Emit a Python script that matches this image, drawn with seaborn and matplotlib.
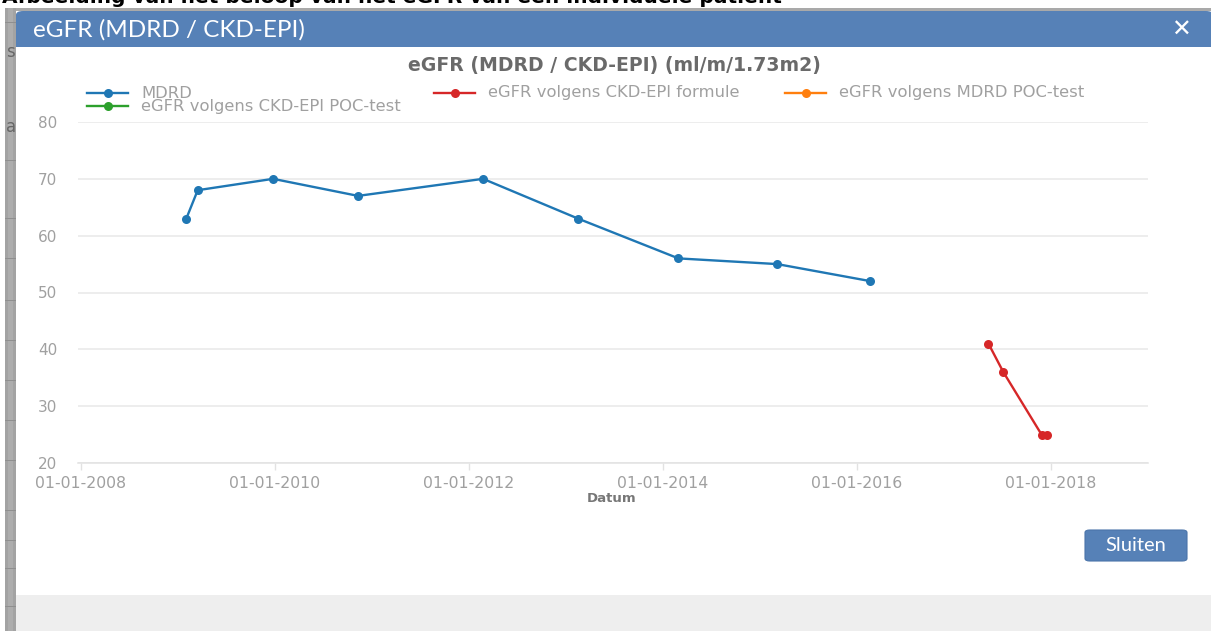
import matplotlib
matplotlib.use("Agg")
import matplotlib.pyplot as plt
import matplotlib.dates as mdates
from matplotlib.patches import Rectangle, FancyBboxPatch
from matplotlib.lines import Line2D
import seaborn as sns
import pandas as pd

# ---------------- data ----------------
mdrd_dates = ["2009-02-01", "2009-03-16", "2009-12-25", "2010-11-10", "2012-02-24",
              "2013-02-16", "2014-03-01", "2015-03-08", "2016-02-22"]
mdrd_values = [63, 68, 70, 67, 70, 63, 56, 55, 52]
ckd_dates = ["2017-05-12", "2017-07-07", "2017-11-28", "2017-12-19"]
ckd_values = [41, 36, 25, 25]

series_names = ["MDRD", "eGFR volgens CKD-EPI formule", "eGFR volgens MDRD POC-test",
                "eGFR volgens CKD-EPI POC-test"]
series_colors = ["#1f77b4", "#d62728", "#ff7f0e", "#2ca02c"]
y_ticks = [20, 30, 40, 50, 60, 70, 80]
chart_title = "eGFR (MDRD / CKD-EPI) (ml/m/1.73m2)"
x_label = "Datum"
dialog_title = "eGFR (MDRD / CKD-EPI)"
button_label = "Sluiten"
caption = "Afbeelding van het beloop van het eGFR van een individuele patiënt"

df = pd.concat([
    pd.DataFrame({"date": pd.to_datetime(mdrd_dates), "value": mdrd_values, "series": series_names[0]}),
    pd.DataFrame({"date": pd.to_datetime(ckd_dates), "value": ckd_values, "series": series_names[1]}),
], ignore_index=True)

# ---------------- figure ----------------
W, H = 1211, 631
fig = plt.figure(figsize=(W / 100, H / 100), dpi=100)
fig.patch.set_facecolor("white")


def fx(x):
    return x / W


def fy(y):
    return 1 - y / H


def rect(x0, y0, x1, y1, color, z=0):
    fig.patches.append(Rectangle((fx(x0), fy(y1)), fx(x1 - x0), (y1 - y0) / H,
                                 transform=fig.transFigure, facecolor=color,
                                 edgecolor="none", zorder=z))


# page behind the dialog
rect(0, 0, W, H, "white", 0)
rect(5, 8, W, 11, "#a9a9a9", 0)
rect(5, 8, 16, H, "#a3a3a3", 0)
rect(8, 8, 13, H, "#adadad", 0)
for yy in [22, 160, 218, 258, 300, 340, 380, 420, 460, 510, 540, 568, 606]:
    rect(5, yy, 16, yy + 1, "#8f8f8f", 0)
fig.text(fx(2), fy(3), caption, fontsize=14.5, fontweight="bold", color="black",
         family="DejaVu Sans", ha="left", va="baseline")
fig.text(fx(6), fy(52), "s", fontsize=12, color="#666666", ha="left", va="center")
fig.text(fx(6), fy(127), "a", fontsize=12, color="#666666", ha="left", va="center")

# dialog
fig.patches.append(FancyBboxPatch((fx(16), fy(60)), fx(W - 14), (60 - 11) / H,
                                  boxstyle="round,pad=0,rounding_size=0.006",
                                  transform=fig.transFigure, facecolor="#5681b7",
                                  edgecolor="none", zorder=1))
rect(16, 40, W, 47, "#5681b7", 1)
rect(16, 47, W, 595, "white", 1)
rect(16, 595, W, H, "#eeeeee", 1)
fig.text(fx(33), fy(30), dialog_title, fontsize=17.5, color="white", family="Lato",
         ha="left", va="center", zorder=3)
fig.text(fx(1181), fy(30), "✕", fontsize=17, fontweight="bold", color="white",
         family="DejaVu Sans", ha="center", va="center", zorder=3)

# button
fig.patches.append(FancyBboxPatch((fx(1085), fy(561)), fx(102), 31 / H,
                                  boxstyle="round,pad=0,rounding_size=0.004",
                                  transform=fig.transFigure, facecolor="#5681b7",
                                  edgecolor="#4a74aa", linewidth=0.8, zorder=2))
fig.text(fx(1136), fy(545.5), button_label, fontsize=14.5, color="white", family="Lato",
         ha="center", va="center", zorder=3)

# ---------------- chart ----------------
ax = fig.add_axes([fx(78), fy(463), fx(1148 - 78), (463 - 122) / H], zorder=2)
ax.set_facecolor("none")
palette = dict(zip(series_names, series_colors))
sns.lineplot(data=df, x="date", y="value", hue="series", palette=palette,
             estimator=None, sort=True, marker="o", markersize=6.5,
             markeredgewidth=0, linewidth=1.7, legend=False, ax=ax, zorder=3)

ax.set_xlim(pd.Timestamp("2007-12-21"), pd.Timestamp("2019-01-03"))
ax.set_ylim(20, 80)
ax.set_yticks(y_ticks)
ax.xaxis.set_major_locator(mdates.YearLocator(2))
ax.xaxis.set_major_formatter(mdates.DateFormatter("%d-%m-%Y"))
ax.grid(axis="y", color="#e8e8e8", linewidth=1.1)
ax.grid(axis="x", visible=False)
for s in ["top", "right", "left"]:
    ax.spines[s].set_visible(False)
ax.spines["bottom"].set_color("#e2e2e2")
ax.spines["bottom"].set_linewidth(1.1)
ax.tick_params(axis="y", length=0, pad=15, labelsize=11, labelcolor="#a0a0a0")
ax.tick_params(axis="x", length=5, width=1, color="#e2e2e2", pad=4,
               labelsize=11.3, labelcolor="#a0a0a0")
for lab in ax.get_yticklabels() + ax.get_xticklabels():
    lab.set_family("DejaVu Sans")
ax.set_xlabel("")
ax.set_ylabel("")

fig.text(fx(614), fy(66), chart_title, fontsize=13.6, fontweight="bold", color="#6a6a6a",
         ha="center", va="center", zorder=3)
fig.text(fx(612), fy(499), x_label, fontsize=9.5, fontweight="bold", color="#777777",
         ha="center", va="center", zorder=3)

# legend
legend_pos = {
    series_names[0]: (87, 93),
    series_names[1]: (434, 93),
    series_names[2]: (785, 93),
    series_names[3]: (87, 106),
}
for name, color in zip(series_names, series_colors):
    x0, y0 = legend_pos[name]
    fig.add_artist(Line2D([fx(x0), fx(x0 + 41)], [fy(y0), fy(y0)], transform=fig.transFigure,
                          color=color, linewidth=1.7, zorder=3))
    fig.add_artist(Line2D([fx(x0 + 20.5)], [fy(y0)], transform=fig.transFigure, marker="o",
                          markersize=6.5, markeredgewidth=0, color=color, zorder=3))
    fig.text(fx(x0 + 54), fy(y0), name, fontsize=11.8, color="#a0a0a0", family="DejaVu Sans",
             ha="left", va="center", zorder=3)

fig.savefig("out.png", dpi=100)
